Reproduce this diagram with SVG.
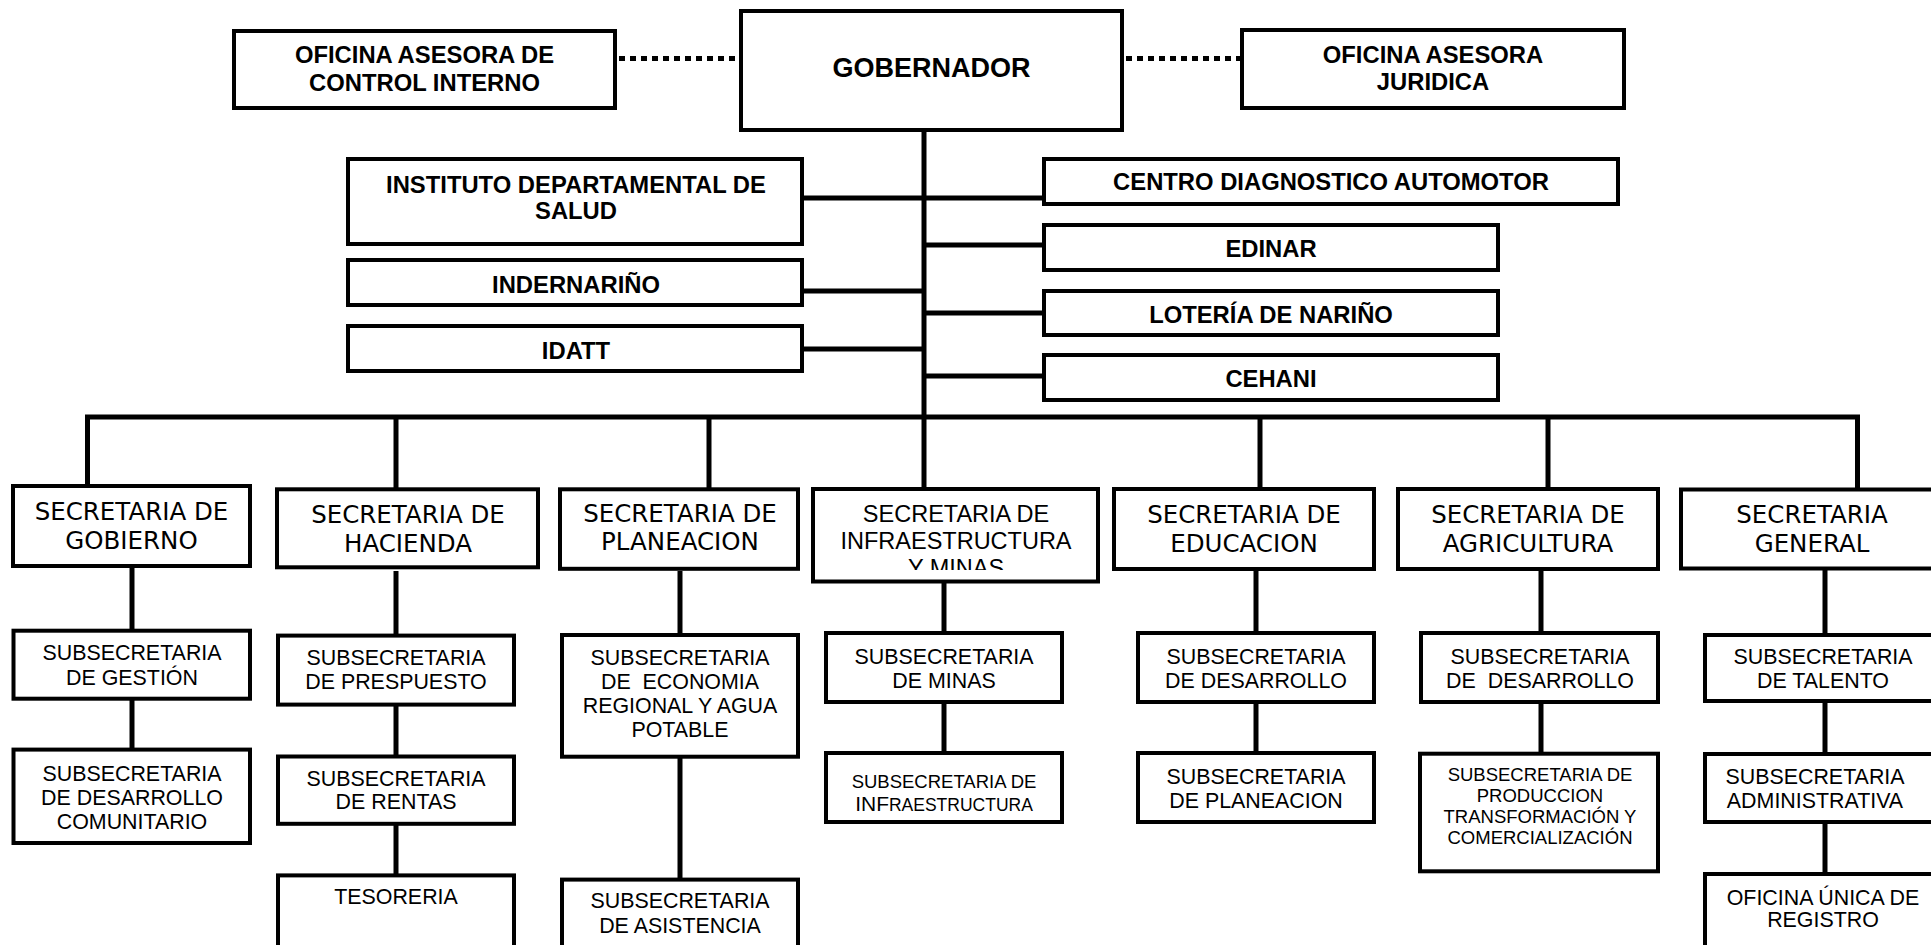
<svg xmlns="http://www.w3.org/2000/svg" width="1931" height="945" viewBox="0 0 1931 945">
<style>
.box{fill:#fff;stroke:#000;stroke-width:4}
.ln{stroke:#000;stroke-width:5;fill:none}
.dot{stroke:#000;stroke-width:5;fill:none;stroke-dasharray:6 5}
text{text-anchor:middle;fill:#000}
.tb{font-family:"Liberation Sans",Arial,sans-serif;font-weight:bold;font-size:23.8px}
.tg{font-family:"Liberation Sans",Arial,sans-serif;font-weight:bold;font-size:27px}
.ts{font-family:"DejaVu Sans",Verdana,sans-serif;font-size:24.5px}
.ta{font-family:"Liberation Sans",Arial,sans-serif;font-size:23.5px}
.tu{font-family:"Liberation Sans",Arial,sans-serif;font-size:21.4px}
.tm{font-family:"Liberation Sans",Arial,sans-serif;font-size:18.5px}
</style>
<defs>
<clipPath id="clipInfra"><rect x="815" y="491" width="281" height="79"/></clipPath>
</defs>
<rect width="1931" height="945" fill="#fff"/>
<g id="connectors">
<line class="dot" x1="619" y1="58.5" x2="739" y2="58.5"/>
<line class="dot" x1="1126" y1="58.5" x2="1240" y2="58.5"/>
<line class="ln" x1="924" y1="132" x2="924" y2="489"/>
<line class="ln" x1="804" y1="198" x2="924" y2="198"/>
<line class="ln" x1="804" y1="291" x2="924" y2="291"/>
<line class="ln" x1="804" y1="349" x2="924" y2="349"/>
<line class="ln" x1="924" y1="198" x2="1042" y2="198"/>
<line class="ln" x1="924" y1="245" x2="1042" y2="245"/>
<line class="ln" x1="924" y1="313" x2="1042" y2="313"/>
<line class="ln" x1="924" y1="376" x2="1042" y2="376"/>
<polyline class="ln" points="87.5,488 87.5,417 1857.5,417 1857.5,489"/>
<line class="ln" x1="396" y1="417" x2="396" y2="489"/>
<line class="ln" x1="709" y1="417" x2="709" y2="489"/>
<line class="ln" x1="1260" y1="417" x2="1260" y2="489"/>
<line class="ln" x1="1548" y1="417" x2="1548" y2="489"/>
<line class="ln" x1="132" y1="568" x2="132" y2="630"/>
<line class="ln" x1="132" y1="700" x2="132" y2="749"/>
<line class="ln" x1="396" y1="571" x2="396" y2="635"/>
<line class="ln" x1="396" y1="706" x2="396" y2="756"/>
<line class="ln" x1="396" y1="825" x2="396" y2="875"/>
<line class="ln" x1="680" y1="571" x2="680" y2="635"/>
<line class="ln" x1="680" y1="758" x2="680" y2="879"/>
<line class="ln" x1="944" y1="583" x2="944" y2="633"/>
<line class="ln" x1="944" y1="704" x2="944" y2="753"/>
<line class="ln" x1="1256" y1="571" x2="1256" y2="633"/>
<line class="ln" x1="1256" y1="704" x2="1256" y2="753"/>
<line class="ln" x1="1541" y1="571" x2="1541" y2="633"/>
<line class="ln" x1="1541" y1="704" x2="1541" y2="753"/>
<line class="ln" x1="1825" y1="570" x2="1825" y2="635"/>
<line class="ln" x1="1825" y1="703" x2="1825" y2="754"/>
<line class="ln" x1="1825" y1="824" x2="1825" y2="874"/>
</g>
<g id="n-control-interno"><rect class="box" x="234" y="31" width="381" height="77"/><text class="tb" x="424.5" y="63">OFICINA ASESORA DE</text><text class="tb" x="424.5" y="91">CONTROL INTERNO</text></g>
<g id="n-gobernador"><rect class="box" x="741" y="11" width="381" height="119"/><text class="tg" x="931.5" y="77">GOBERNADOR</text></g>
<g id="n-juridica"><rect class="box" x="1242" y="30" width="382" height="78"/><text class="tb" x="1433" y="63">OFICINA ASESORA</text><text class="tb" x="1433" y="90">JURIDICA</text></g>
<g id="n-instituto"><rect class="box" x="348" y="159" width="454" height="85"/><text class="tb" x="576" y="193">INSTITUTO DEPARTAMENTAL DE</text><text class="tb" x="576" y="218.5">SALUD</text></g>
<g id="n-indernarino"><rect class="box" x="348" y="260" width="454" height="45"/><text class="tb" x="576" y="293">INDERNARIÑO</text></g>
<g id="n-idatt"><rect class="box" x="348" y="326" width="454" height="45"/><text class="tb" x="576" y="358.5">IDATT</text></g>
<g id="n-cda"><rect class="box" x="1044" y="159" width="574" height="45"/><text class="tb" x="1331" y="190">CENTRO DIAGNOSTICO AUTOMOTOR</text></g>
<g id="n-edinar"><rect class="box" x="1044" y="225" width="454" height="45"/><text class="tb" x="1271" y="257">EDINAR</text></g>
<g id="n-loteria"><rect class="box" x="1044" y="291" width="454" height="44"/><text class="tb" x="1271" y="323">LOTERÍA DE NARIÑO</text></g>
<g id="n-cehani"><rect class="box" x="1044" y="355" width="454" height="45"/><text class="tb" x="1271" y="387">CEHANI</text></g>
<g id="n-sec-gobierno"><rect class="box" x="13" y="486" width="237" height="80"/><text class="ts" x="131.5" y="520">SECRETARIA DE</text><text class="ts" x="131.5" y="549">GOBIERNO</text></g>
<g id="n-sec-hacienda"><rect class="box" x="277" y="489.3" width="261" height="78"/><text class="ts" x="408" y="523">SECRETARIA DE</text><text class="ts" x="408" y="552">HACIENDA</text></g>
<g id="n-sec-planeacion"><rect class="box" x="560" y="489.3" width="238" height="79.5"/><text class="ts" x="680" y="521.5">SECRETARIA DE</text><text class="ts" x="680" y="550">PLANEACION</text></g>
<g id="n-sec-infra"><rect class="box" x="813" y="489" width="285" height="92.5"/><g clip-path="url(#clipInfra)"><text class="ta" x="956" y="521.5">SECRETARIA DE</text><text class="ta" x="956" y="549">INFRAESTRUCTURA</text><text class="ta" x="956" y="576">Y MINAS</text></g></g>
<g id="n-sec-educacion"><rect class="box" x="1114" y="489" width="260" height="80"/><text class="ts" x="1244" y="523">SECRETARIA DE</text><text class="ts" x="1244" y="552">EDUCACION</text></g>
<g id="n-sec-agricultura"><rect class="box" x="1398" y="489" width="260" height="80"/><text class="ts" x="1528" y="523">SECRETARIA DE</text><text class="ts" x="1528" y="552">AGRICULTURA</text></g>
<g id="n-sec-general"><rect class="box" x="1681" y="489.5" width="262" height="79"/><text class="ts" x="1812" y="523">SECRETARIA</text><text class="ts" x="1812" y="552">GENERAL</text></g>
<g id="n-sub-gestion"><rect class="box" x="13.5" y="630.7" width="236.5" height="68"/><text class="tu" x="132" y="660">SUBSECRETARIA</text><text class="tu" x="132" y="684.5">DE GESTIÓN</text></g>
<g id="n-sub-desarrollo-com"><rect class="box" x="13.5" y="749.6" width="236.5" height="93.4"/><text class="tu" x="132" y="780.5">SUBSECRETARIA</text><text class="tu" x="132" y="805">DE DESARROLLO</text><text class="tu" x="132" y="828.5">COMUNITARIO</text></g>
<g id="n-sub-presupuesto"><rect class="box" x="278" y="635.6" width="236" height="69"/><text class="tu" x="396" y="665">SUBSECRETARIA</text><text class="tu" x="396" y="689">DE PRESPUESTO</text></g>
<g id="n-sub-rentas"><rect class="box" x="278" y="756.5" width="236" height="67.3"/><text class="tu" x="396" y="786">SUBSECRETARIA</text><text class="tu" x="396" y="808.5">DE RENTAS</text></g>
<g id="n-tesoreria"><rect class="box" x="278" y="875.4" width="236" height="80"/><text class="tu" x="396" y="904">TESORERIA</text></g>
<g id="n-sub-economia"><rect class="box" x="562" y="635" width="236" height="121.7"/><text class="tu" x="680" y="665">SUBSECRETARIA</text><text class="tu" x="680" y="688.5" xml:space="preserve">DE  ECONOMIA</text><text class="tu" x="680" y="713">REGIONAL Y AGUA</text><text class="tu" x="680" y="737">POTABLE</text></g>
<g id="n-sub-asistencia"><rect class="box" x="562" y="879.6" width="236" height="80"/><text class="tu" x="680" y="908">SUBSECRETARIA</text><text class="tu" x="680" y="932.5">DE ASISTENCIA</text></g>
<g id="n-sub-minas"><rect class="box" x="826" y="633" width="236" height="69"/><text class="tu" x="944" y="663.5">SUBSECRETARIA</text><text class="tu" x="944" y="688">DE MINAS</text></g>
<g id="n-sub-infra"><rect class="box" x="826" y="753" width="236" height="69"/><text class="tm" x="944" y="788">SUBSECRETARIA DE</text><text class="tm" x="944" y="810.5"><tspan font-size="21px">INF</tspan><tspan font-size="17.5px">RAESTRUCTURA</tspan></text></g>
<g id="n-sub-desarrollo-edu"><rect class="box" x="1138" y="633" width="236" height="69"/><text class="tu" x="1256" y="664">SUBSECRETARIA</text><text class="tu" x="1256" y="688">DE DESARROLLO</text></g>
<g id="n-sub-planeacion"><rect class="box" x="1138" y="753" width="236" height="69"/><text class="tu" x="1256" y="784">SUBSECRETARIA</text><text class="tu" x="1256" y="807.5">DE PLANEACION</text></g>
<g id="n-sub-desarrollo-agri"><rect class="box" x="1421" y="633" width="237" height="69"/><text class="tu" x="1540" y="664">SUBSECRETARIA</text><text class="tu" x="1540" y="688" xml:space="preserve">DE  DESARROLLO</text></g>
<g id="n-sub-produccion"><rect class="box" x="1420" y="753.7" width="238" height="117.6"/><text class="tm" x="1540" y="781">SUBSECRETARIA DE</text><text class="tm" x="1540" y="802">PRODUCCION</text><text class="tm" x="1540" y="823">TRANSFORMACIÓN Y</text><text class="tm" x="1540" y="844">COMERCIALIZACIÓN</text></g>
<g id="n-sub-talento"><rect class="box" x="1705" y="635" width="236" height="66"/><text class="tu" x="1823" y="664">SUBSECRETARIA</text><text class="tu" x="1823" y="688">DE TALENTO</text></g>
<g id="n-sub-administrativa"><rect class="box" x="1705" y="754" width="236" height="68"/><text class="tu" x="1815" y="784">SUBSECRETARIA</text><text class="tu" x="1815" y="807.5">ADMINISTRATIVA</text></g>
<g id="n-oficina-registro"><rect class="box" x="1705" y="874" width="236" height="80"/><text class="tu" x="1823" y="904.5">OFICINA ÚNICA DE</text><text class="tu" x="1823" y="927">REGISTRO</text></g>
</svg>
